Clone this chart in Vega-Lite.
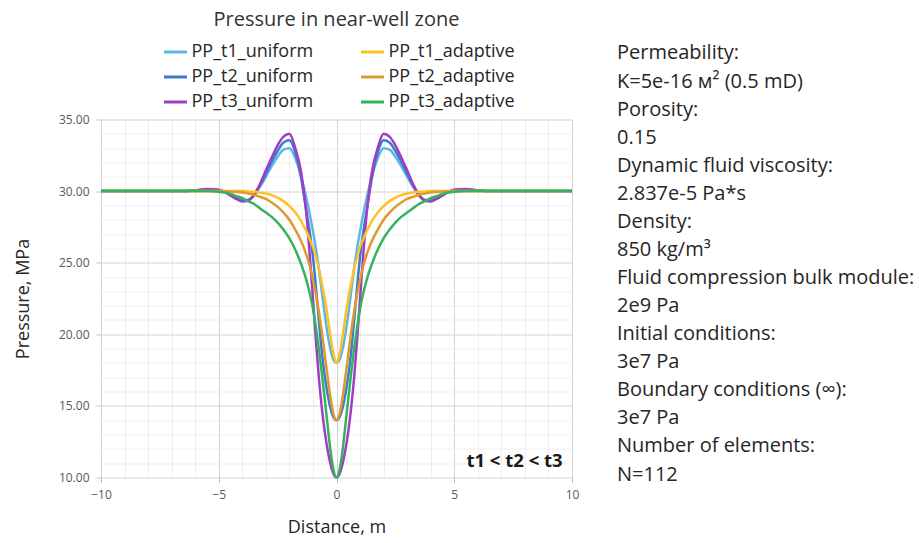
{
  "$schema": "https://vega.github.io/schema/vega-lite/v6.json",
  "background": "white",
  "padding": {"left": 14, "top": 9.5, "right": 0, "bottom": 0},
  "config": {
    "font": "Open Sans",
    "view": {"stroke": null},
    "concat": {"spacing": 38}
  },
  "hconcat": [
    {
      "width": 471,
      "height": 358,
      "title": {"text": "Pressure in near-well zone", "fontSize": 20, "fontWeight": "normal", "color": "#333333", "anchor": "middle", "offset": 84},
      "layer": [
        {
          "data": {"values": [
            {"x": -10, "PP_t1_uniform": 30, "PP_t2_uniform": 30, "PP_t3_uniform": 30, "PP_t1_adaptive": 30, "PP_t2_adaptive": 30, "PP_t3_adaptive": 30},
            {"x": -8, "PP_t1_uniform": 30, "PP_t2_uniform": 30, "PP_t3_uniform": 30, "PP_t1_adaptive": 30, "PP_t2_adaptive": 30, "PP_t3_adaptive": 30},
            {"x": -7, "PP_t1_uniform": 30, "PP_t2_uniform": 30, "PP_t3_uniform": 30, "PP_t1_adaptive": 30, "PP_t2_adaptive": 30, "PP_t3_adaptive": 30},
            {"x": -6.5, "PP_t1_uniform": 30, "PP_t2_uniform": 30, "PP_t3_uniform": 30, "PP_t1_adaptive": 30, "PP_t2_adaptive": 30, "PP_t3_adaptive": 30},
            {"x": -6, "PP_t1_uniform": 30.04, "PP_t2_uniform": 30.05, "PP_t3_uniform": 30.05, "PP_t1_adaptive": 30, "PP_t2_adaptive": 30, "PP_t3_adaptive": 30},
            {"x": -5.5, "PP_t1_uniform": 30.12, "PP_t2_uniform": 30.13, "PP_t3_uniform": 30.15, "PP_t1_adaptive": 30, "PP_t2_adaptive": 30, "PP_t3_adaptive": 30},
            {"x": -5, "PP_t1_uniform": 30.08, "PP_t2_uniform": 30.08, "PP_t3_uniform": 30.1, "PP_t1_adaptive": 30, "PP_t2_adaptive": 30, "PP_t3_adaptive": 29.95},
            {"x": -4.75, "PP_t1_uniform": 29.95, "PP_t2_uniform": 29.95, "PP_t3_uniform": 29.95, "PP_t1_adaptive": 30, "PP_t2_adaptive": 29.99, "PP_t3_adaptive": 29.9},
            {"x": -4.5, "PP_t1_uniform": 29.72, "PP_t2_uniform": 29.7, "PP_t3_uniform": 29.7, "PP_t1_adaptive": 30, "PP_t2_adaptive": 29.97, "PP_t3_adaptive": 29.8},
            {"x": -4.25, "PP_t1_uniform": 29.5, "PP_t2_uniform": 29.48, "PP_t3_uniform": 29.45, "PP_t1_adaptive": 30, "PP_t2_adaptive": 29.94, "PP_t3_adaptive": 29.65},
            {"x": -4, "PP_t1_uniform": 29.35, "PP_t2_uniform": 29.33, "PP_t3_uniform": 29.28, "PP_t1_adaptive": 30, "PP_t2_adaptive": 29.9, "PP_t3_adaptive": 29.5},
            {"x": -3.75, "PP_t1_uniform": 29.38, "PP_t2_uniform": 29.38, "PP_t3_uniform": 29.33, "PP_t1_adaptive": 29.98, "PP_t2_adaptive": 29.83, "PP_t3_adaptive": 29.3},
            {"x": -3.5, "PP_t1_uniform": 29.7, "PP_t2_uniform": 29.75, "PP_t3_uniform": 29.75, "PP_t1_adaptive": 29.95, "PP_t2_adaptive": 29.75, "PP_t3_adaptive": 29.1},
            {"x": -3.25, "PP_t1_uniform": 30.3, "PP_t2_uniform": 30.4, "PP_t3_uniform": 30.5, "PP_t1_adaptive": 29.9, "PP_t2_adaptive": 29.6, "PP_t3_adaptive": 28.8},
            {"x": -3, "PP_t1_uniform": 31.0, "PP_t2_uniform": 31.2, "PP_t3_uniform": 31.45, "PP_t1_adaptive": 29.83, "PP_t2_adaptive": 29.45, "PP_t3_adaptive": 28.5},
            {"x": -2.75, "PP_t1_uniform": 31.75, "PP_t2_uniform": 32.05, "PP_t3_uniform": 32.35, "PP_t1_adaptive": 29.72, "PP_t2_adaptive": 29.2, "PP_t3_adaptive": 28.2},
            {"x": -2.5, "PP_t1_uniform": 32.4, "PP_t2_uniform": 32.8, "PP_t3_uniform": 33.2, "PP_t1_adaptive": 29.55, "PP_t2_adaptive": 28.9, "PP_t3_adaptive": 27.8},
            {"x": -2.25, "PP_t1_uniform": 32.9, "PP_t2_uniform": 33.4, "PP_t3_uniform": 33.8, "PP_t1_adaptive": 29.3, "PP_t2_adaptive": 28.5, "PP_t3_adaptive": 27.3},
            {"x": -2, "PP_t1_uniform": 33.0, "PP_t2_uniform": 33.55, "PP_t3_uniform": 34.0, "PP_t1_adaptive": 28.95, "PP_t2_adaptive": 28.0, "PP_t3_adaptive": 26.7},
            {"x": -1.75, "PP_t1_uniform": 32.3, "PP_t2_uniform": 32.7, "PP_t3_uniform": 33.0, "PP_t1_adaptive": 28.5, "PP_t2_adaptive": 27.3, "PP_t3_adaptive": 25.9},
            {"x": -1.5, "PP_t1_uniform": 31.0, "PP_t2_uniform": 30.9, "PP_t3_uniform": 31.3, "PP_t1_adaptive": 27.9, "PP_t2_adaptive": 26.5, "PP_t3_adaptive": 24.9},
            {"x": -1.375, "PP_t1_uniform": 30.2, "PP_t2_uniform": 29.6, "PP_t3_uniform": 29.8, "PP_t1_adaptive": 27.5, "PP_t2_adaptive": 26.0, "PP_t3_adaptive": 24.3},
            {"x": -1.25, "PP_t1_uniform": 29.3, "PP_t2_uniform": 28.3, "PP_t3_uniform": 27.9, "PP_t1_adaptive": 27.1, "PP_t2_adaptive": 25.4, "PP_t3_adaptive": 23.6},
            {"x": -1.125, "PP_t1_uniform": 28.3, "PP_t2_uniform": 27.0, "PP_t3_uniform": 25.3, "PP_t1_adaptive": 26.6, "PP_t2_adaptive": 24.7, "PP_t3_adaptive": 22.8},
            {"x": -1, "PP_t1_uniform": 27.2, "PP_t2_uniform": 25.4, "PP_t3_uniform": 22.5, "PP_t1_adaptive": 26.1, "PP_t2_adaptive": 23.8, "PP_t3_adaptive": 21.8},
            {"x": -0.875, "PP_t1_uniform": 26.0, "PP_t2_uniform": 23.3, "PP_t3_uniform": 19.6, "PP_t1_adaptive": 25.4, "PP_t2_adaptive": 22.8, "PP_t3_adaptive": 20.5},
            {"x": -0.75, "PP_t1_uniform": 24.6, "PP_t2_uniform": 21.0, "PP_t3_uniform": 17.0, "PP_t1_adaptive": 24.6, "PP_t2_adaptive": 21.6, "PP_t3_adaptive": 19.0},
            {"x": -0.625, "PP_t1_uniform": 23.0, "PP_t2_uniform": 18.8, "PP_t3_uniform": 14.9, "PP_t1_adaptive": 23.6, "PP_t2_adaptive": 20.2, "PP_t3_adaptive": 17.3},
            {"x": -0.5, "PP_t1_uniform": 21.4, "PP_t2_uniform": 17.1, "PP_t3_uniform": 13.2, "PP_t1_adaptive": 22.5, "PP_t2_adaptive": 18.6, "PP_t3_adaptive": 15.5},
            {"x": -0.375, "PP_t1_uniform": 20.0, "PP_t2_uniform": 15.8, "PP_t3_uniform": 11.9, "PP_t1_adaptive": 21.2, "PP_t2_adaptive": 17.0, "PP_t3_adaptive": 13.6},
            {"x": -0.25, "PP_t1_uniform": 18.9, "PP_t2_uniform": 14.8, "PP_t3_uniform": 10.9, "PP_t1_adaptive": 19.8, "PP_t2_adaptive": 15.5, "PP_t3_adaptive": 11.8},
            {"x": -0.125, "PP_t1_uniform": 18.2, "PP_t2_uniform": 14.2, "PP_t3_uniform": 10.25, "PP_t1_adaptive": 18.6, "PP_t2_adaptive": 14.4, "PP_t3_adaptive": 10.5},
            {"x": 0, "PP_t1_uniform": 18.0, "PP_t2_uniform": 14.0, "PP_t3_uniform": 10.0, "PP_t1_adaptive": 18.0, "PP_t2_adaptive": 14.0, "PP_t3_adaptive": 10.0},
            {"x": 0.125, "PP_t1_uniform": 18.2, "PP_t2_uniform": 14.2, "PP_t3_uniform": 10.25, "PP_t1_adaptive": 18.6, "PP_t2_adaptive": 14.4, "PP_t3_adaptive": 10.5},
            {"x": 0.25, "PP_t1_uniform": 18.9, "PP_t2_uniform": 14.8, "PP_t3_uniform": 10.9, "PP_t1_adaptive": 19.8, "PP_t2_adaptive": 15.5, "PP_t3_adaptive": 11.8},
            {"x": 0.375, "PP_t1_uniform": 20.0, "PP_t2_uniform": 15.8, "PP_t3_uniform": 11.9, "PP_t1_adaptive": 21.2, "PP_t2_adaptive": 17.0, "PP_t3_adaptive": 13.6},
            {"x": 0.5, "PP_t1_uniform": 21.4, "PP_t2_uniform": 17.1, "PP_t3_uniform": 13.2, "PP_t1_adaptive": 22.5, "PP_t2_adaptive": 18.6, "PP_t3_adaptive": 15.5},
            {"x": 0.625, "PP_t1_uniform": 23.0, "PP_t2_uniform": 18.8, "PP_t3_uniform": 14.9, "PP_t1_adaptive": 23.6, "PP_t2_adaptive": 20.2, "PP_t3_adaptive": 17.3},
            {"x": 0.75, "PP_t1_uniform": 24.6, "PP_t2_uniform": 21.0, "PP_t3_uniform": 17.0, "PP_t1_adaptive": 24.6, "PP_t2_adaptive": 21.6, "PP_t3_adaptive": 19.0},
            {"x": 0.875, "PP_t1_uniform": 26.0, "PP_t2_uniform": 23.3, "PP_t3_uniform": 19.6, "PP_t1_adaptive": 25.4, "PP_t2_adaptive": 22.8, "PP_t3_adaptive": 20.5},
            {"x": 1, "PP_t1_uniform": 27.2, "PP_t2_uniform": 25.4, "PP_t3_uniform": 22.5, "PP_t1_adaptive": 26.1, "PP_t2_adaptive": 23.8, "PP_t3_adaptive": 21.8},
            {"x": 1.125, "PP_t1_uniform": 28.3, "PP_t2_uniform": 27.0, "PP_t3_uniform": 25.3, "PP_t1_adaptive": 26.6, "PP_t2_adaptive": 24.7, "PP_t3_adaptive": 22.8},
            {"x": 1.25, "PP_t1_uniform": 29.3, "PP_t2_uniform": 28.3, "PP_t3_uniform": 27.9, "PP_t1_adaptive": 27.1, "PP_t2_adaptive": 25.4, "PP_t3_adaptive": 23.6},
            {"x": 1.375, "PP_t1_uniform": 30.2, "PP_t2_uniform": 29.6, "PP_t3_uniform": 29.8, "PP_t1_adaptive": 27.5, "PP_t2_adaptive": 26.0, "PP_t3_adaptive": 24.3},
            {"x": 1.5, "PP_t1_uniform": 31.0, "PP_t2_uniform": 30.9, "PP_t3_uniform": 31.3, "PP_t1_adaptive": 27.9, "PP_t2_adaptive": 26.5, "PP_t3_adaptive": 24.9},
            {"x": 1.75, "PP_t1_uniform": 32.3, "PP_t2_uniform": 32.7, "PP_t3_uniform": 33.0, "PP_t1_adaptive": 28.5, "PP_t2_adaptive": 27.3, "PP_t3_adaptive": 25.9},
            {"x": 2, "PP_t1_uniform": 33.0, "PP_t2_uniform": 33.55, "PP_t3_uniform": 34.0, "PP_t1_adaptive": 28.95, "PP_t2_adaptive": 28.0, "PP_t3_adaptive": 26.7},
            {"x": 2.25, "PP_t1_uniform": 32.9, "PP_t2_uniform": 33.4, "PP_t3_uniform": 33.8, "PP_t1_adaptive": 29.3, "PP_t2_adaptive": 28.5, "PP_t3_adaptive": 27.3},
            {"x": 2.5, "PP_t1_uniform": 32.4, "PP_t2_uniform": 32.8, "PP_t3_uniform": 33.2, "PP_t1_adaptive": 29.55, "PP_t2_adaptive": 28.9, "PP_t3_adaptive": 27.8},
            {"x": 2.75, "PP_t1_uniform": 31.75, "PP_t2_uniform": 32.05, "PP_t3_uniform": 32.35, "PP_t1_adaptive": 29.72, "PP_t2_adaptive": 29.2, "PP_t3_adaptive": 28.2},
            {"x": 3, "PP_t1_uniform": 31.0, "PP_t2_uniform": 31.2, "PP_t3_uniform": 31.45, "PP_t1_adaptive": 29.83, "PP_t2_adaptive": 29.45, "PP_t3_adaptive": 28.5},
            {"x": 3.25, "PP_t1_uniform": 30.3, "PP_t2_uniform": 30.4, "PP_t3_uniform": 30.5, "PP_t1_adaptive": 29.9, "PP_t2_adaptive": 29.6, "PP_t3_adaptive": 28.8},
            {"x": 3.5, "PP_t1_uniform": 29.7, "PP_t2_uniform": 29.75, "PP_t3_uniform": 29.75, "PP_t1_adaptive": 29.95, "PP_t2_adaptive": 29.75, "PP_t3_adaptive": 29.1},
            {"x": 3.75, "PP_t1_uniform": 29.38, "PP_t2_uniform": 29.38, "PP_t3_uniform": 29.33, "PP_t1_adaptive": 29.98, "PP_t2_adaptive": 29.83, "PP_t3_adaptive": 29.3},
            {"x": 4, "PP_t1_uniform": 29.35, "PP_t2_uniform": 29.33, "PP_t3_uniform": 29.28, "PP_t1_adaptive": 30, "PP_t2_adaptive": 29.9, "PP_t3_adaptive": 29.5},
            {"x": 4.25, "PP_t1_uniform": 29.5, "PP_t2_uniform": 29.48, "PP_t3_uniform": 29.45, "PP_t1_adaptive": 30, "PP_t2_adaptive": 29.94, "PP_t3_adaptive": 29.65},
            {"x": 4.5, "PP_t1_uniform": 29.72, "PP_t2_uniform": 29.7, "PP_t3_uniform": 29.7, "PP_t1_adaptive": 30, "PP_t2_adaptive": 29.97, "PP_t3_adaptive": 29.8},
            {"x": 4.75, "PP_t1_uniform": 29.95, "PP_t2_uniform": 29.95, "PP_t3_uniform": 29.95, "PP_t1_adaptive": 30, "PP_t2_adaptive": 29.99, "PP_t3_adaptive": 29.9},
            {"x": 5, "PP_t1_uniform": 30.08, "PP_t2_uniform": 30.08, "PP_t3_uniform": 30.1, "PP_t1_adaptive": 30, "PP_t2_adaptive": 30, "PP_t3_adaptive": 29.95},
            {"x": 5.5, "PP_t1_uniform": 30.12, "PP_t2_uniform": 30.13, "PP_t3_uniform": 30.15, "PP_t1_adaptive": 30, "PP_t2_adaptive": 30, "PP_t3_adaptive": 30},
            {"x": 6, "PP_t1_uniform": 30.04, "PP_t2_uniform": 30.05, "PP_t3_uniform": 30.05, "PP_t1_adaptive": 30, "PP_t2_adaptive": 30, "PP_t3_adaptive": 30},
            {"x": 6.5, "PP_t1_uniform": 30, "PP_t2_uniform": 30, "PP_t3_uniform": 30, "PP_t1_adaptive": 30, "PP_t2_adaptive": 30, "PP_t3_adaptive": 30},
            {"x": 7, "PP_t1_uniform": 30, "PP_t2_uniform": 30, "PP_t3_uniform": 30, "PP_t1_adaptive": 30, "PP_t2_adaptive": 30, "PP_t3_adaptive": 30},
            {"x": 8, "PP_t1_uniform": 30, "PP_t2_uniform": 30, "PP_t3_uniform": 30, "PP_t1_adaptive": 30, "PP_t2_adaptive": 30, "PP_t3_adaptive": 30},
            {"x": 10, "PP_t1_uniform": 30, "PP_t2_uniform": 30, "PP_t3_uniform": 30, "PP_t1_adaptive": 30, "PP_t2_adaptive": 30, "PP_t3_adaptive": 30}
          ]},
          "transform": [{"fold": ["PP_t1_uniform", "PP_t2_uniform", "PP_t3_uniform", "PP_t1_adaptive", "PP_t2_adaptive", "PP_t3_adaptive"], "as": ["series", "pressure"]}],
          "mark": {"type": "line", "interpolate": "monotone", "strokeWidth": 2.5},
          "encoding": {
            "x": {
              "field": "x", "type": "quantitative",
              "scale": {"domain": [-10, 10], "nice": false},
              "axis": {
                "orient": "bottom",
                "title": "Distance, m", "titleFontSize": 18, "titleFontWeight": "normal", "titleColor": "#262626", "titlePadding": 18,
                "values": [-10, -5, 0, 5, 10], "format": "d",
                "labelOverlap": false, "labelFontSize": 12, "labelColor": "#595959", "labelPadding": 7, "labelFlush": false,
                "domain": false, "grid": true, "gridColor": "#D4D4D4", "gridWidth": 1,
                "tickSize": 5, "tickColor": "#BFBFBF"
              }
            },
            "y": {
              "field": "pressure", "type": "quantitative",
              "scale": {"domain": [10, 35], "nice": false, "zero": false},
              "axis": {
                "orient": "left",
                "title": "Pressure, MPa", "titleFontSize": 18, "titleFontWeight": "normal", "titleColor": "#262626", "titlePadding": 25.5,
                "values": [10, 15, 20, 25, 30, 35], "format": ".2f",
                "labelOverlap": false, "labelFontSize": 12, "labelColor": "#595959", "labelPadding": 7, "labelFlush": false,
                "domain": false, "grid": true, "gridColor": "#D4D4D4", "gridWidth": 1,
                "tickSize": 5, "tickColor": "#BFBFBF"
              }
            },
            "color": {
              "field": "series", "type": "nominal",
              "scale": {
                "domain": ["PP_t1_uniform", "PP_t2_uniform", "PP_t3_uniform", "PP_t1_adaptive", "PP_t2_adaptive", "PP_t3_adaptive"],
                "range": ["#5DB6E6", "#3A7DC9", "#A13CC6", "#FFC125", "#DE9A2E", "#33B35C"]
              },
              "legend": {
                "title": null, "orient": "none", "legendX": 61.5, "legendY": -80.5,
                "columns": 2, "columnPadding": 41, "rowPadding": 3, "padding": 0,
                "symbolType": "stroke", "symbolSize": 529, "symbolStrokeWidth": 3,
                "labelFontSize": 18, "labelColor": "#262626", "labelOffset": 3, "labelLimit": 300
              }
            }
          }
        },
        {
          "data": {"values": [{"note": "t1 < t2 < t3"}]},
          "mark": {"type": "text", "fontSize": 18.5, "fontWeight": "bold", "color": "#1A1A1A"},
          "encoding": {
            "x": {
              "datum": 7.56, "type": "quantitative",
              "axis": {"orient": "bottom", "title": null, "values": [-9, -8, -7, -6, -4, -3, -2, -1, 1, 2, 3, 4, 6, 7, 8, 9], "labels": false, "ticks": false, "domain": false, "grid": true, "gridColor": "#EFEFEF", "gridWidth": 1}
            },
            "y": {
              "datum": 11.18, "type": "quantitative",
              "axis": {"orient": "left", "title": null, "values": [11, 12, 13, 14, 16, 17, 18, 19, 21, 22, 23, 24, 26, 27, 28, 29, 31, 32, 33, 34], "labels": false, "ticks": false, "domain": false, "grid": true, "gridColor": "#EFEFEF", "gridWidth": 1}
            },
            "text": {"field": "note"}
          }
        }
      ],
      "resolve": {"axis": {"x": "independent", "y": "independent"}}
    },
    {
      "width": 280,
      "height": 358,
      "data": {"values": [
        {"line": 1, "text": "Permeability:"},
        {"line": 2, "text": "K=5e-16 м² (0.5 mD)"},
        {"line": 3, "text": "Porosity:"},
        {"line": 4, "text": "0.15"},
        {"line": 5, "text": "Dynamic fluid viscosity:"},
        {"line": 6, "text": "2.837e-5 Pa*s"},
        {"line": 7, "text": "Density:"},
        {"line": 8, "text": "850 kg/m³"},
        {"line": 9, "text": "Fluid compression bulk module:"},
        {"line": 10, "text": "2e9 Pa"},
        {"line": 11, "text": "Initial conditions:"},
        {"line": 12, "text": "3e7 Pa"},
        {"line": 13, "text": "Boundary conditions (∞):"},
        {"line": 14, "text": "3e7 Pa"},
        {"line": 15, "text": "Number of elements:"},
        {"line": 16, "text": "N=112"}
      ]},
      "mark": {"type": "text", "align": "left", "baseline": "middle", "fontSize": 20, "color": "#262626"},
      "encoding": {
        "y": {"field": "line", "type": "quantitative", "axis": null, "scale": {"domain": [3.352, 16.106], "nice": false, "zero": false, "reverse": true}},
        "x": {"datum": 0, "type": "quantitative", "scale": {"domain": [0, 1]}, "axis": null},
        "text": {"field": "text"}
      }
    }
  ]
}
